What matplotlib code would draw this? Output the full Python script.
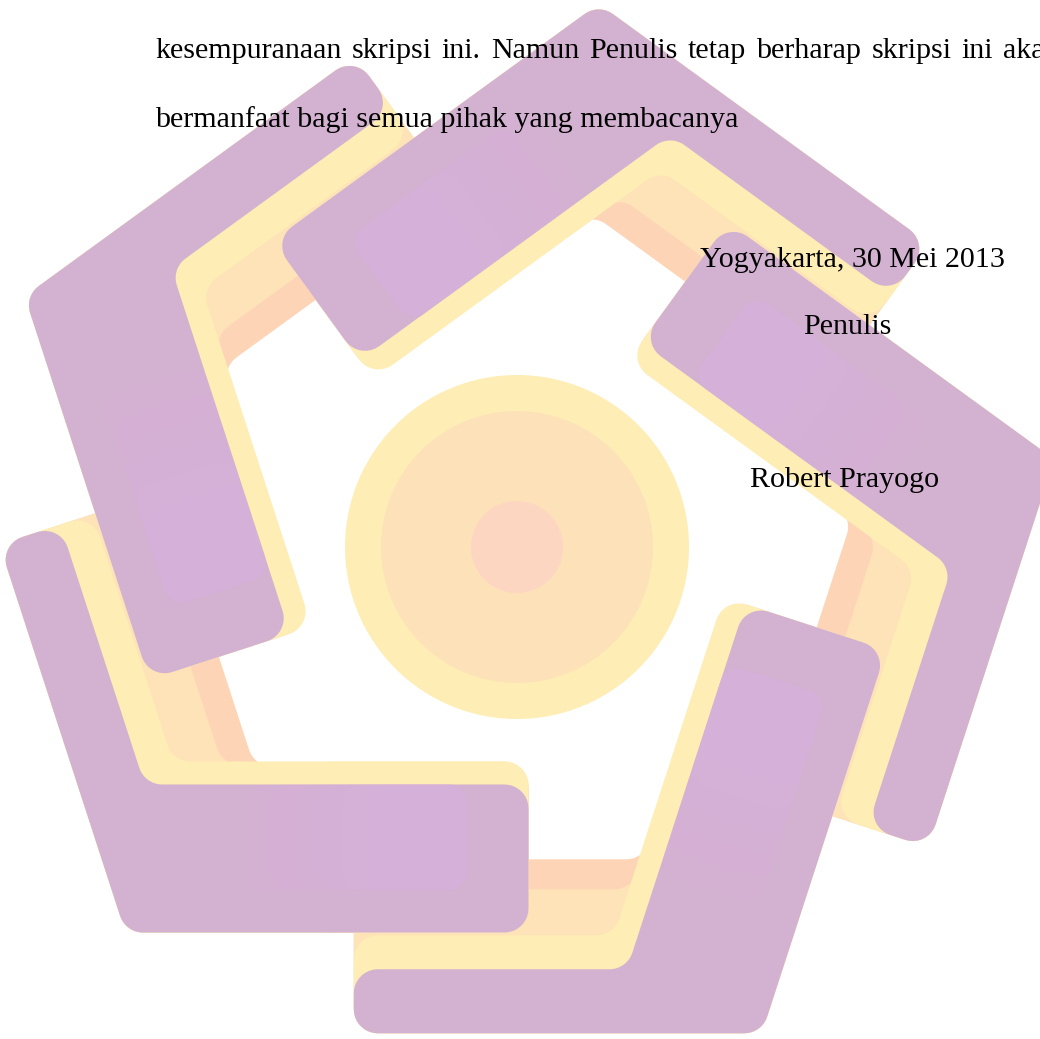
import numpy as np
import matplotlib
matplotlib.use("Agg")
import matplotlib.pyplot as plt
from matplotlib.patches import Polygon, Circle

# ---------------- text content ----------------
line1_words = ["kesempuranaan", "skripsi", "ini.", "Namun", "Penulis", "tetap",
               "berharap", "skripsi", "ini", "akan"]
line2_text = "bermanfaat bagi semua pihak yang membacanya"
date_text = "Yogyakarta, 30 Mei 2013"
role_text = "Penulis"
author_text = "Robert Prayogo"

# ---------------- watermark logo description ----------------
n_pieces = 5
start_angle = 135.0                       # first pentagon vertex, screen degrees
layer_colors = ["#FDD5B6", "#FDE3B7", "#FEEDB4", "#D3B1D1"]   # back -> front
layer_extra_narrow = [110, 80, 34, 0]     # extra width on the narrow arm
layer_extra_wide = [18, 20, 23, 0]        # extra width on the wide arm
ring_radii = [172, 136, 46]
ring_colors = ["#FEEDB4", "#FDE1B9", "#FDD6C2"]
highlight_color = "#DAB0DD"
highlight_starts = [0.30, 0.36, 0.42, 0.48, 0.54, 0.60]

# layout geometry (pixels)
W, H = 1040, 1039
CX, CY, RAD = 513.0, 545.0, 548.0
RING_C = (517.0, 547.0)
WIDE_W, NARROW_W = 148.0, 64.0
WIDE_L, NARROW_L = 403.0, 408.0
CORNER_R = 24.0

FONT = "Liberation Serif"
FS = 21.6


def unit(deg):
    a = np.deg2rad(deg)
    return np.array([np.cos(a), np.sin(a)])


def rounded(pts, r, n=10):
    pts = np.asarray(pts, float)
    out = []
    m = len(pts)
    for i in range(m):
        P, A, B = pts[i], pts[i - 1], pts[(i + 1) % m]
        v1 = A - P; l1 = np.linalg.norm(v1); v1 = v1 / l1
        v2 = B - P; l2 = np.linalg.norm(v2); v2 = v2 / l2
        ang = np.arccos(np.clip(np.dot(v1, v2), -1, 1))
        rr = r
        d = rr / np.tan(ang / 2)
        d = min(d, 0.45 * l1, 0.45 * l2)
        rr = d * np.tan(ang / 2)
        bis = v1 + v2; bis = bis / np.linalg.norm(bis)
        C = P + bis * rr / np.sin(ang / 2)
        T1, T2 = P + v1 * d, P + v2 * d
        a1 = np.arctan2(T1[1] - C[1], T1[0] - C[0])
        a2 = np.arctan2(T2[1] - C[1], T2[0] - C[0])
        da = (a2 - a1 + np.pi) % (2 * np.pi) - np.pi
        for t in np.linspace(0, 1, n):
            out.append(C + rr * np.array([np.cos(a1 + da * t), np.sin(a1 + da * t)]))
    return np.array(out)


def frame(k):
    th = start_angle + 72.0 * k
    V = np.array([CX, CY]) + RAD * unit(th)
    u_w, n_w = unit(th - 135), unit(th + 135)
    u_n, n_n = unit(th + 117), unit(th + 207)
    return V, u_w, n_w, u_n, n_n


def chevron(k, ww, wn):
    V, u_w, n_w, u_n, n_n = frame(k)
    Pwo = V + WIDE_L * u_w
    Pwi = Pwo + ww * n_w
    Pno = V + NARROW_L * u_n
    Pni = Pno + wn * n_n
    A = np.column_stack([u_w, -u_n])
    b = (V + wn * n_n) - (V + ww * n_w)
    a, _ = np.linalg.solve(A, b)
    I = V + ww * n_w + a * u_w
    return rounded([V, Pwo, Pwi, I, Pni, Pno], CORNER_R)


def local_rect(k, s0, s1, t0, t1):
    V, u_w, n_w, _, _ = frame(k)
    return [V + s0 * u_w + t0 * n_w, V + s1 * u_w + t0 * n_w,
            V + s1 * u_w + t1 * n_w, V + s0 * u_w + t1 * n_w]


def draw_piece(ax, k, z, clip=None):
    patches = []
    for col, en, ew in zip(layer_colors, layer_extra_narrow, layer_extra_wide):
        p = Polygon(chevron(k, WIDE_W + ew, NARROW_W + en), closed=True,
                    facecolor=col, edgecolor="none", zorder=z)
        patches.append(p)
    # soft highlight on the wide arm
    for s0 in highlight_starts:
        pts = rounded(local_rect(k, s0 * WIDE_L, WIDE_L - 62, 42, WIDE_W), 18)
        patches.append(Polygon(pts, closed=True, facecolor=highlight_color,
                               edgecolor="none", alpha=0.17, zorder=z))
    for p in patches:
        ax.add_patch(p)
        if clip is not None:
            p.set_clip_path(clip)


fig = plt.figure(figsize=(W / 100, H / 100), dpi=100)
ax = fig.add_axes([0, 0, 1, 1])
ax.set_xlim(0, W)
ax.set_ylim(H, 0)
ax.axis("off")

# central rings
for r, c in zip(ring_radii, ring_colors):
    ax.add_patch(Circle(RING_C, r, facecolor=c, edgecolor="none", zorder=1))

# pinwheel pieces
for k in range(n_pieces):
    draw_piece(ax, k, 2 + k * 0.1)
# the first piece's wide end lies over the last piece's narrow end
clip_poly = Polygon(local_rect(0, 0.5 * WIDE_L, WIDE_L + 40, -40, WIDE_W + 60),
                    closed=True, transform=ax.transData, facecolor="none",
                    edgecolor="none")
ax.add_patch(clip_poly)
draw_piece(ax, 0, 3, clip=clip_poly)

# ---------------- text ----------------
renderer = fig.canvas.get_renderer()
x = 155.0
for w in line1_words:
    t = ax.text(x, 58, w, fontsize=FS, family=FONT, va="baseline", ha="left",
                color="black", zorder=10)
    x += t.get_window_extent(renderer).width + 10.2

ax.text(155, 127, line2_text, fontsize=FS, family=FONT, va="baseline",
        ha="left", color="black", zorder=10)
ax.text(700, 267, date_text, fontsize=FS, family=FONT, va="baseline",
        ha="left", color="black", zorder=10)
ax.text(803, 334, role_text, fontsize=FS, family=FONT, va="baseline",
        ha="left", color="black", zorder=10)
ax.text(750, 487, author_text, fontsize=FS, family=FONT, va="baseline",
        ha="left", color="black", zorder=10)

fig.savefig("out.png", dpi=100)
